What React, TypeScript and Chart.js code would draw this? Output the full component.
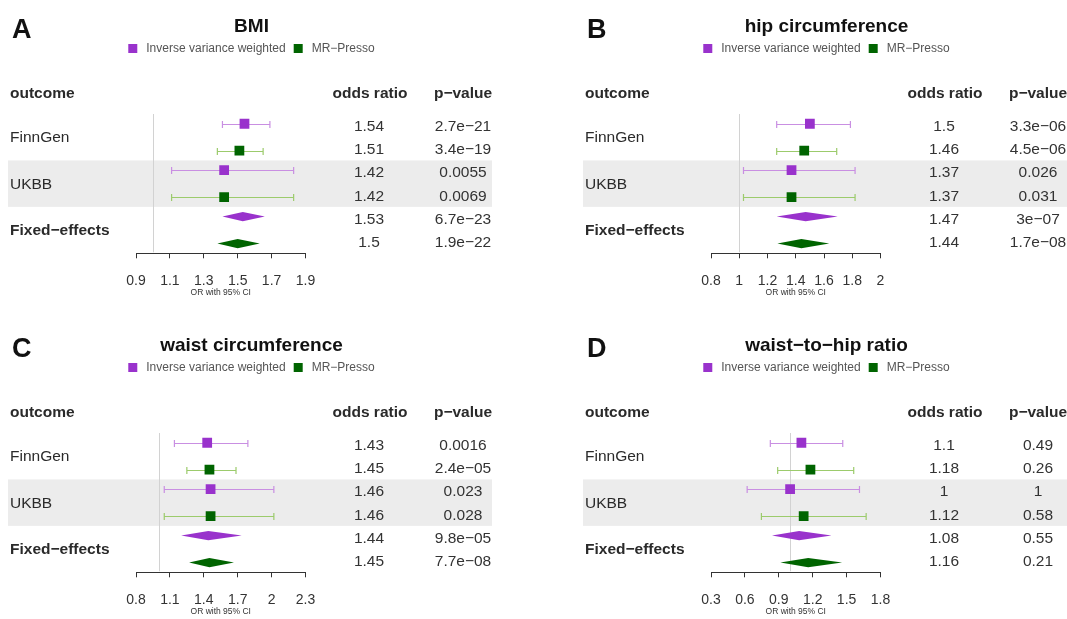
import React, { useEffect, useRef } from "react";
import { Chart, registerables } from "chart.js";

Chart.register(...registerables);

const FONT = "'Liberation Sans', Arial, Helvetica, sans-serif";

// ---------- shared categories ----------
const OUTCOMES = ["FinnGen", "UKBB", "Fixed−effects"];
const METHODS = ["Inverse variance weighted", "MR−Presso"];
const POINT_COLORS = ["#9932CC", "#006400"];
const CI_COLORS = ["#C98FE2", "#9CCB6C"];

// ---------- A: BMI ----------
const BMI_IVW_OR = [1.54, 1.42, 1.53];
const BMI_IVW_LO = [1.41, 1.11, 1.41];
const BMI_IVW_HI = [1.69, 1.83, 1.66];
const BMI_IVW_P = ["2.7e−21", "0.0055", "6.7e−23"];
const BMI_MRP_OR = [1.51, 1.42, 1.5];
const BMI_MRP_LO = [1.38, 1.11, 1.38];
const BMI_MRP_HI = [1.65, 1.83, 1.63];
const BMI_MRP_P = ["3.4e−19", "0.0069", "1.9e−22"];
const BMI_TICKS = [0.9, 1.1, 1.3, 1.5, 1.7, 1.9];
const BMI_TICK_LABELS = ["0.9", "1.1", "1.3", "1.5", "1.7", "1.9"];

// ---------- B: hip circumference ----------
const HIP_IVW_OR = [1.5, 1.37, 1.47];
const HIP_IVW_LO = [1.265, 1.03, 1.265];
const HIP_IVW_HI = [1.787, 1.82, 1.697];
const HIP_IVW_P = ["3.3e−06", "0.026", "3e−07"];
const HIP_MRP_OR = [1.46, 1.37, 1.44];
const HIP_MRP_LO = [1.265, 1.03, 1.27];
const HIP_MRP_HI = [1.69, 1.82, 1.637];
const HIP_MRP_P = ["4.5e−06", "0.031", "1.7e−08"];
const HIP_TICKS = [0.8, 1, 1.2, 1.4, 1.6, 1.8, 2];
const HIP_TICK_LABELS = ["0.8", "1", "1.2", "1.4", "1.6", "1.8", "2"];

// ---------- C: waist circumference ----------
const WAIST_IVW_OR = [1.43, 1.46, 1.44];
const WAIST_IVW_LO = [1.14, 1.05, 1.2];
const WAIST_IVW_HI = [1.79, 2.02, 1.735];
const WAIST_IVW_P = ["0.0016", "0.023", "9.8e−05"];
const WAIST_MRP_OR = [1.45, 1.46, 1.45];
const WAIST_MRP_LO = [1.25, 1.05, 1.27];
const WAIST_MRP_HI = [1.685, 2.02, 1.667];
const WAIST_MRP_P = ["2.4e−05", "0.028", "7.7e−08"];
const WAIST_TICKS = [0.8, 1.1, 1.4, 1.7, 2, 2.3];
const WAIST_TICK_LABELS = ["0.8", "1.1", "1.4", "1.7", "2", "2.3"];

// ---------- D: waist-to-hip ratio ----------
const WHR_IVW_OR = [1.1, 1, 1.08];
const WHR_IVW_LO = [0.825, 0.62, 0.84];
const WHR_IVW_HI = [1.466, 1.614, 1.366];
const WHR_IVW_P = ["0.49", "1", "0.55"];
const WHR_MRP_OR = [1.18, 1.12, 1.16];
const WHR_MRP_LO = [0.89, 0.746, 0.914];
const WHR_MRP_HI = [1.563, 1.673, 1.46];
const WHR_MRP_P = ["0.26", "0.58", "0.21"];
const WHR_TICKS = [0.3, 0.6, 0.9, 1.2, 1.5, 1.8];
const WHR_TICK_LABELS = ["0.3", "0.6", "0.9", "1.2", "1.5", "1.8"];

const PANELS = [
  {
    letter: "A", title: "BMI", left: 0, top: 0,
    methods: [
      { or: BMI_IVW_OR, lo: BMI_IVW_LO, hi: BMI_IVW_HI, p: BMI_IVW_P },
      { or: BMI_MRP_OR, lo: BMI_MRP_LO, hi: BMI_MRP_HI, p: BMI_MRP_P },
    ],
    ticks: BMI_TICKS, tickLabels: BMI_TICK_LABELS,
  },
  {
    letter: "B", title: "hip circumference", left: 575, top: 0,
    methods: [
      { or: HIP_IVW_OR, lo: HIP_IVW_LO, hi: HIP_IVW_HI, p: HIP_IVW_P },
      { or: HIP_MRP_OR, lo: HIP_MRP_LO, hi: HIP_MRP_HI, p: HIP_MRP_P },
    ],
    ticks: HIP_TICKS, tickLabels: HIP_TICK_LABELS,
  },
  {
    letter: "C", title: "waist circumference", left: 0, top: 319,
    methods: [
      { or: WAIST_IVW_OR, lo: WAIST_IVW_LO, hi: WAIST_IVW_HI, p: WAIST_IVW_P },
      { or: WAIST_MRP_OR, lo: WAIST_MRP_LO, hi: WAIST_MRP_HI, p: WAIST_MRP_P },
    ],
    ticks: WAIST_TICKS, tickLabels: WAIST_TICK_LABELS,
  },
  {
    letter: "D", title: "waist−to−hip ratio", left: 575, top: 319,
    methods: [
      { or: WHR_IVW_OR, lo: WHR_IVW_LO, hi: WHR_IVW_HI, p: WHR_IVW_P },
      { or: WHR_MRP_OR, lo: WHR_MRP_LO, hi: WHR_MRP_HI, p: WHR_MRP_P },
    ],
    ticks: WHR_TICKS, tickLabels: WHR_TICK_LABELS,
  },
];

// ---------- layout / style constants (canvas px) ----------
const W = 533;
const H = 310;
const AREA_LEFT = 136;
const AREA_RIGHT = 305.5;
const AREA_TOP = 114;
const AREA_BOTTOM = 253.3;
const AXIS_H = 45;
const MARK_NUDGE = 0.29; // in row units
const TEXT_NUDGE = 0.25;
const FIXED_INDEX = 2;
const BAND_INDEX = 1;
const BAND_X0 = 8;
const BAND_X1 = 492;
const BAND_COLOR = "#ECECEC";
const CAP = 3.5;
const DIAMOND_HALF = 4.6;
const TITLE_X = 251.5;
const TITLE_Y = 26.5;
const LEGEND_Y = 48.5;
const LETTER_X = 12;
const LETTER_Y = 30.5;
const HEADER_Y = 93.5;
const LABEL_X = 10;
const OR_X = 369;
const P_X = 463;
const TXT = "#2a2a2a";

function makePlugin(p) {
  return {
    id: "forest",
    beforeDraw(chart) {
      const { ctx } = chart;
      const y = chart.scales.y;
      ctx.save();
      ctx.fillStyle = "#ffffff";
      ctx.fillRect(0, 0, chart.width, chart.height);
      const a = y.getPixelForValue(BAND_INDEX + 1 - 0.5);
      const b = y.getPixelForValue(BAND_INDEX + 1 + 0.5);
      ctx.fillStyle = BAND_COLOR;
      ctx.fillRect(BAND_X0, Math.min(a, b), BAND_X1 - BAND_X0, Math.abs(b - a));
      ctx.restore();
    },
    beforeDatasetsDraw(chart) {
      const { ctx, chartArea } = chart;
      const x = chart.scales.x;
      const y = chart.scales.y;
      ctx.save();
      const x1 = Math.round(x.getPixelForValue(1)) + 0.5;
      ctx.strokeStyle = "#D2D2D2";
      ctx.lineWidth = 1;
      ctx.beginPath();
      ctx.moveTo(x1, chartArea.top);
      ctx.lineTo(x1, chartArea.bottom - 1);
      ctx.stroke();
      chart.data.datasets.forEach((ds, di) => {
        ctx.strokeStyle = CI_COLORS[di];
        ctx.lineWidth = 1.2;
        ds.data.forEach((d, i) => {
          if (i === FIXED_INDEX) return;
          const py = Math.round(y.getPixelForValue(d.y)) + 0.5;
          const xl = x.getPixelForValue(d.lo);
          const xh = x.getPixelForValue(d.hi);
          ctx.beginPath();
          ctx.moveTo(xl, py);
          ctx.lineTo(xh, py);
          ctx.moveTo(xl, py - CAP);
          ctx.lineTo(xl, py + CAP);
          ctx.moveTo(xh, py - CAP);
          ctx.lineTo(xh, py + CAP);
          ctx.stroke();
        });
      });
      ctx.restore();
    },
    afterDatasetsDraw(chart) {
      const { ctx } = chart;
      const x = chart.scales.x;
      const y = chart.scales.y;
      ctx.save();
      chart.data.datasets.forEach((ds, di) => {
        const d = ds.data[FIXED_INDEX];
        const py = y.getPixelForValue(d.y);
        ctx.fillStyle = POINT_COLORS[di];
        ctx.beginPath();
        ctx.moveTo(x.getPixelForValue(d.lo), py);
        ctx.lineTo(x.getPixelForValue(d.x), py - DIAMOND_HALF);
        ctx.lineTo(x.getPixelForValue(d.hi), py);
        ctx.lineTo(x.getPixelForValue(d.x), py + DIAMOND_HALF);
        ctx.closePath();
        ctx.fill();
      });
      ctx.restore();
    },
    afterDraw(chart) {
      const { ctx } = chart;
      const y = chart.scales.y;
      ctx.save();
      ctx.textBaseline = "middle";
      // panel letter
      ctx.fillStyle = "#111";
      ctx.textAlign = "left";
      ctx.font = `bold 27px ${FONT}`;
      ctx.fillText(p.letter, LETTER_X, LETTER_Y);
      // title
      ctx.textAlign = "center";
      ctx.font = `bold 19px ${FONT}`;
      ctx.fillText(p.title, TITLE_X, TITLE_Y);
      // legend
      ctx.font = `12px ${FONT}`;
      const SQ = 9, G1 = 9, G2 = 8;
      const w0 = ctx.measureText(METHODS[0]).width;
      const w1 = ctx.measureText(METHODS[1]).width;
      const total = SQ + G1 + w0 + G2 + SQ + G1 + w1;
      let lx = TITLE_X - total / 2;
      ctx.textAlign = "left";
      [w0, w1].forEach((w, i) => {
        ctx.fillStyle = POINT_COLORS[i];
        ctx.fillRect(lx, LEGEND_Y - SQ / 2, SQ, SQ);
        lx += SQ + G1;
        ctx.fillStyle = "#555";
        ctx.fillText(METHODS[i], lx, LEGEND_Y + 0.5);
        lx += w + G2;
      });
      // headers
      ctx.fillStyle = TXT;
      ctx.font = `bold 15.5px ${FONT}`;
      ctx.textAlign = "left";
      ctx.fillText("outcome", LABEL_X, HEADER_Y);
      ctx.textAlign = "center";
      ctx.fillText("odds ratio", OR_X + 1, HEADER_Y);
      ctx.fillText("p−value", P_X, HEADER_Y);
      // outcome labels
      ctx.textAlign = "left";
      OUTCOMES.forEach((name, i) => {
        ctx.font = i === FIXED_INDEX ? `bold 15.5px ${FONT}` : `15.5px ${FONT}`;
        ctx.fillText(name, LABEL_X, y.getPixelForValue(i + 1) + 1);
      });
      // value columns
      ctx.font = `15.5px ${FONT}`;
      ctx.fillStyle = "#333";
      ctx.textAlign = "center";
      OUTCOMES.forEach((_, i) => {
        p.methods.forEach((m, mi) => {
          const py = y.getPixelForValue(i + 1 + (mi === 0 ? -TEXT_NUDGE : TEXT_NUDGE)) + 1;
          ctx.fillText(String(m.or[i]), OR_X, py);
          ctx.fillText(m.p[i], P_X, py);
        });
      });
      ctx.restore();
    },
  };
}

function makeConfig(p) {
  const datasets = p.methods.map((m, mi) => ({
    label: METHODS[mi],
    data: OUTCOMES.map((_, i) => ({
      x: m.or[i],
      y: i + 1 + (mi === 0 ? -MARK_NUDGE : MARK_NUDGE),
      lo: m.lo[i],
      hi: m.hi[i],
    })),
    pointStyle: "rect",
    pointRadius: (c) => (c.dataIndex === FIXED_INDEX ? 0 : 6.9),
    backgroundColor: POINT_COLORS[mi],
    borderColor: POINT_COLORS[mi],
    borderWidth: 0,
  }));
  return {
    type: "scatter",
    data: { datasets },
    options: {
      animation: false,
      responsive: false,
      devicePixelRatio: 1,
      events: [],
      layout: {
        padding: {
          left: AREA_LEFT,
          right: W - AREA_RIGHT,
          top: AREA_TOP,
          bottom: H - AREA_BOTTOM - AXIS_H,
        },
      },
      plugins: {
        legend: { display: false },
        title: { display: false },
        tooltip: { enabled: false },
      },
      scales: {
        x: {
          type: "linear",
          position: "bottom",
          min: p.ticks[0],
          max: p.ticks[p.ticks.length - 1],
          afterBuildTicks: (s) => {
            s.ticks = p.ticks.map((v) => ({ value: v }));
          },
          afterFit: (s) => {
            s.height = AXIS_H;
          },
          grid: {
            drawOnChartArea: false,
            drawTicks: true,
            tickLength: 5,
            tickColor: "#333",
            tickWidth: 1,
          },
          border: { display: true, color: "#333", width: 1 },
          ticks: {
            autoSkip: false,
            maxRotation: 0,
            minRotation: 0,
            padding: 14,
            color: "#333",
            font: { size: 14, family: FONT },
            callback: (_v, i) => p.tickLabels[i],
          },
          title: {
            display: true,
            text: "OR with 95% CI",
            color: "#333",
            font: { size: 8.5, family: FONT },
            padding: { top: 0, bottom: 0.5 },
          },
        },
        y: { type: "linear", display: false, min: 0.5, max: 3.5, reverse: true },
      },
    },
    plugins: [makePlugin(p)],
  };
}

function ForestPanel({ p }) {
  const ref = useRef(null);
  useEffect(() => {
    const chart = new Chart(ref.current, makeConfig(p));
    return () => chart.destroy();
  }, [p]);
  return (
    <canvas
      ref={ref}
      width={W}
      height={H}
      style={{ position: "absolute", left: p.left, top: p.top, width: W, height: H }}
    />
  );
}

export default function App() {
  return (
    <div
      style={{
        position: "fixed",
        left: 0,
        top: 0,
        width: 1067,
        height: 619,
        overflow: "hidden",
        background: "#fff",
      }}
    >
      {PANELS.map((p) => (
        <ForestPanel key={p.letter} p={p} />
      ))}
    </div>
  );
}
